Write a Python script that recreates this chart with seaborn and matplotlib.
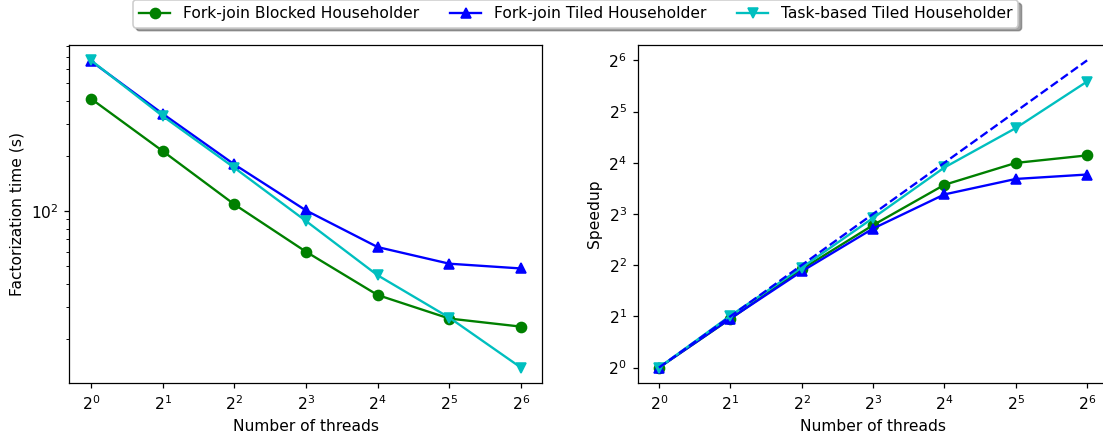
import matplotlib
matplotlib.use("Agg")
import matplotlib.pyplot as plt
import numpy as np
import pandas as pd
import seaborn as sns

threads = [1, 2, 4, 8, 16, 32, 64]

# factorization time in seconds
blocked = [412, 213, 108.8, 59.9, 34.7, 25.8, 23.3]
tiled = [662, 341, 180, 100.8, 63.5, 51.5, 48.5]
task_based = [668, 331, 172.6, 88.2, 44.5, 26.1, 13.9]

names = ["Fork-join Blocked Householder", "Fork-join Tiled Householder",
         "Task-based Tiled Householder"]
colors = ["g", "b", "c"]
markers = ["o", "^", "v"]

times = pd.DataFrame({"threads": threads, names[0]: blocked,
                      names[1]: tiled, names[2]: task_based})

dpi = 112
fig = plt.figure(figsize=(1103 / dpi, 436 / dpi), dpi=dpi)
ax1 = fig.add_axes([0.063, 0.1216, 0.4288, 0.7752])
ax2 = fig.add_axes([0.578, 0.1216, 0.4270, 0.7752])

for name, c, m in zip(names, colors, markers):
    speedup = times[name].iloc[0] / times[name]
    sns.lineplot(x=times["threads"], y=times[name], color=c, marker=m,
                 markeredgecolor=c, markeredgewidth=1.0, markersize=6.5,
                 label=name, ax=ax1)
    sns.lineplot(x=times["threads"], y=speedup, color=c, marker=m,
                 markeredgecolor=c, markeredgewidth=1.0, markersize=6.5,
                 ax=ax2)

# ideal speedup
sns.lineplot(x=threads, y=threads, color="b", linestyle="--", ax=ax2)

handles, labels = ax1.get_legend_handles_labels()
ax1.get_legend().remove()
if ax2.get_legend() is not None:
    ax2.get_legend().remove()

ax1.set_xscale("log", base=2)
ax1.set_yscale("log")
ax1.set_xlabel("Number of threads")
ax1.set_ylabel("Factorization time (s)")

ax2.set_xscale("log", base=2)
ax2.set_yscale("log", base=2)
ax2.set_xlabel("Number of threads")
ax2.set_ylabel("Speedup")

fig.legend(handles, labels, loc="lower center", ncol=3, shadow=True,
           fancybox=True, bbox_to_anchor=(0.522, 0.919))

fig.savefig("out.png", dpi=dpi)
